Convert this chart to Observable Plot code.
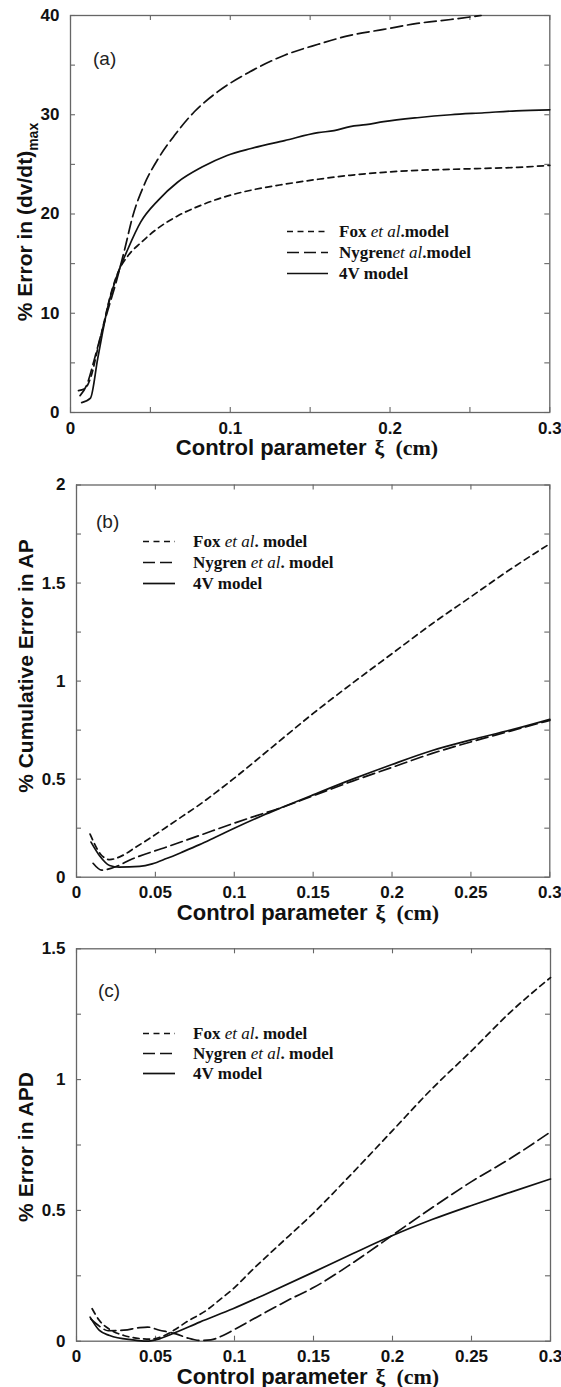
<!DOCTYPE html>
<html><head><meta charset="utf-8">
<script src="https://cdn.jsdelivr.net/npm/d3@7"></script>
<script src="https://cdn.jsdelivr.net/npm/@observablehq/plot@0.6"></script>
<style>
body{margin:0;background:#fff;}
#chart svg{display:block;}
</style></head><body><div id="chart"></div>
<script>
// ---------- DATA ----------
// Panel (a): % Error in (dv/dt)max
const a_fox_x = [0.005,0.009,0.013,0.017,0.021,0.025,0.03,0.036,0.044,0.055,0.067,0.082,0.098,0.113,0.134,0.155,0.175,0.196,0.217,0.238,0.26,0.28,0.3];
const a_fox_y = [2.2,2.4,3.7,6.4,9.1,11.8,14.2,15.8,17.1,18.6,19.8,20.9,21.8,22.4,23.0,23.5,23.9,24.2,24.4,24.5,24.6,24.7,24.9];
const a_nyg_x = [0.006,0.01,0.015,0.019,0.023,0.0285,0.034,0.039,0.046,0.055,0.065,0.0775,0.092,0.112,0.134,0.155,0.175,0.196,0.217,0.238,0.257];
const a_nyg_y = [1.7,2.7,5.4,7.8,10.1,13.1,16.5,19.8,22.9,25.6,27.9,30.3,32.3,34.3,36.0,37.1,38.0,38.6,39.2,39.6,40.0];
const a_4v_x  = [0.007,0.0125,0.017,0.02,0.023,0.0285,0.036,0.044,0.055,0.067,0.082,0.098,0.113,0.134,0.155,0.165,0.175,0.185,0.196,0.217,0.238,0.259,0.279,0.3];
const a_4v_y  = [1.0,1.45,5.4,8.0,10.4,13.5,16.5,19.2,21.4,23.2,24.7,25.9,26.6,27.4,28.2,28.4,28.8,29.0,29.3,29.7,30.0,30.2,30.4,30.5];

// Panel (b): % Cumulative Error in AP
const b_fox_x = [0.0086,0.015,0.021,0.029,0.037,0.046,0.056,0.067,0.078,0.088,0.1,0.125,0.15,0.175,0.2,0.225,0.25,0.275,0.3];
const b_fox_y = [0.22,0.12,0.09,0.11,0.15,0.196,0.25,0.31,0.37,0.43,0.505,0.67,0.835,0.99,1.14,1.29,1.43,1.57,1.70];
const b_nyg_x = [0.0105,0.016,0.023,0.0356,0.0567,0.078,0.099,0.118,0.13,0.15,0.175,0.2,0.225,0.25,0.275,0.3];
const b_nyg_y = [0.071,0.036,0.048,0.094,0.153,0.213,0.273,0.324,0.355,0.415,0.49,0.56,0.63,0.69,0.745,0.80];
const b_4v_x  = [0.0092,0.0145,0.021,0.027,0.04,0.048,0.057,0.067,0.078,0.088,0.1,0.118,0.13,0.15,0.175,0.2,0.225,0.25,0.275,0.3];
const b_4v_y  = [0.179,0.111,0.06,0.051,0.055,0.068,0.095,0.128,0.166,0.204,0.25,0.315,0.355,0.42,0.50,0.575,0.645,0.70,0.75,0.805];

// Panel (c): % Error in APD
const c_fox_x = [0.0099,0.0145,0.021,0.03,0.04,0.047,0.055,0.063,0.07,0.082,0.09,0.1,0.11,0.125,0.15,0.175,0.2,0.225,0.25,0.275,0.3];
const c_fox_y = [0.124,0.079,0.045,0.022,0.01,0.008,0.02,0.047,0.075,0.117,0.155,0.205,0.265,0.35,0.49,0.645,0.805,0.965,1.11,1.26,1.39];
const c_nyg_x = [0.009,0.015,0.02,0.03,0.04,0.045,0.052,0.063,0.07,0.078,0.085,0.092,0.1,0.118,0.135,0.15,0.175,0.2,0.225,0.25,0.275,0.3];
const c_nyg_y = [0.085,0.055,0.04,0.042,0.052,0.054,0.043,0.028,0.013,0.003,0.005,0.02,0.045,0.105,0.16,0.205,0.3,0.405,0.51,0.61,0.70,0.80];
const c_4v_x  = [0.0086,0.0145,0.021,0.0356,0.044,0.0525,0.063,0.078,0.099,0.118,0.15,0.175,0.2,0.225,0.25,0.275,0.3];
const c_4v_y  = [0.092,0.041,0.022,0.005,0.0,0.009,0.034,0.073,0.124,0.175,0.264,0.335,0.404,0.465,0.519,0.57,0.62];

// Tick values and labels
const xMinorTicks = [0,0.05,0.1,0.15,0.2,0.25,0.3];
const a_xLabels = [0,0.1,0.2,0.3];
const bc_xLabels = [0,0.05,0.1,0.15,0.2,0.25,0.3];
const a_yTicks = [0,5,10,15,20,25,30,35,40];
const a_yLabels = [0,10,20,30,40];
const b_yTicks = [0,0.25,0.5,0.75,1,1.25,1.5,1.75,2];
const b_yLabels = [0,0.5,1,1.5,2];
const c_yTicks = [0,0.25,0.5,0.75,1,1.25,1.5];
const c_yLabels = [0,0.5,1,1.5];

// ---------- STYLE ----------
const W = 561;
const SANS = "'Liberation Sans', Arial, Helvetica, sans-serif";
const SERIF = "'Liberation Serif', 'Times New Roman', serif";
const FRAME = "#666";
const INK = "#111";
const DASH = {fox: "6,4.5", nyg: "12,5", v4: null};

function toRows(xs, ys) { return xs.map((x, i) => ({x, y: ys[i]})); }

function makePanel(cfg) {
  const plotH = cfg.height - cfg.marginTop - cfg.marginBottom;
  const plotW = W - cfg.marginLeft - cfg.marginRight;
  const lines = cfg.series.map(s => Plot.line(toRows(s.x, s.y), {
    x: "x", y: "y", stroke: INK, strokeWidth: 1.7, curve: "monotone-x",
    strokeDasharray: DASH[s.key] || undefined
  }));
  const tickStyle = {stroke: FRAME, strokeWidth: 1.1};
  const svg = Plot.plot({
    width: W, height: cfg.height,
    marginTop: cfg.marginTop, marginBottom: cfg.marginBottom,
    marginLeft: cfg.marginLeft, marginRight: cfg.marginRight,
    x: {domain: [0, 0.3], label: null},
    y: {domain: cfg.yDomain, label: null},
    style: {background: "white", overflow: "visible"},
    marks: [
      Plot.tickX(xMinorTicks, {x: d => d, insetTop: plotH - 5, ...tickStyle}),
      Plot.tickX(xMinorTicks, {x: d => d, insetBottom: plotH - 5, ...tickStyle}),
      Plot.tickY(cfg.yTicks, {y: d => d, insetRight: plotW - 5, ...tickStyle}),
      Plot.tickY(cfg.yTicks, {y: d => d, insetLeft: plotW - 5, ...tickStyle}),
      Plot.frame({stroke: FRAME, strokeWidth: 1.3}),
      ...lines,
      Plot.axisX(cfg.xLabels, {tickSize: 0, tickPadding: 9, label: null,
        tickFormat: d => String(d), fontSize: 17, fontWeight: "bold", fontFamily: SANS, fill: INK}),
      Plot.axisY(cfg.yLabels, {tickSize: 0, tickPadding: 11, label: null,
        tickFormat: d => String(d), fontSize: 17, fontWeight: "bold", fontFamily: SANS, fill: INK})
    ]
  });
  const s = d3.select(svg);
  // panel letter
  s.append("text").attr("x", cfg.letter.x).attr("y", cfg.letter.y).attr("text-anchor", "start")
    .attr("font-family", SANS).attr("font-size", 19).attr("fill", "#222").text(cfg.letter.t);
  // y title
  const yt = s.append("text")
    .attr("transform", `translate(${cfg.yTitle.x},${cfg.yTitle.cy}) rotate(-90)`)
    .attr("text-anchor", "middle").attr("font-family", SANS).attr("font-weight", "bold")
    .attr("font-size", 21).attr("fill", INK);
  yt.append("tspan").text(cfg.yTitle.t);
  if (cfg.yTitle.sub) yt.append("tspan").attr("dy", 6).attr("font-size", 14).text(cfg.yTitle.sub);
  // x title
  const xt = s.append("text").attr("x", cfg.xTitle.cx).attr("y", cfg.xTitle.y)
    .attr("text-anchor", "middle").attr("font-weight", "bold").attr("font-size", 22).attr("fill", INK);
  xt.append("tspan").attr("font-family", SANS).text("Control parameter");
  xt.append("tspan").attr("font-family", SERIF).attr("dx", 8).text("ξ");
  xt.append("tspan").attr("font-family", SERIF).attr("dx", 11).text("(cm)");
  // legend
  const L = cfg.legend;
  cfg.series.forEach((ser, i) => {
    const by = L.y0 + i * L.dy;
    const ln = s.append("line").attr("x1", L.x1).attr("x2", L.x2)
      .attr("y1", by - 5.5).attr("y2", by - 5.5)
      .attr("stroke", INK).attr("stroke-width", 1.7);
    if (DASH[ser.key]) ln.attr("stroke-dasharray", DASH[ser.key]);
    const t = s.append("text").attr("x", L.tx).attr("y", by).attr("text-anchor", "start")
      .attr("font-family", SERIF).attr("font-weight", "bold").attr("font-size", 17).attr("fill", INK);
    ser.label.forEach(part => {
      const sp = t.append("tspan").text(part.t);
      if (part.i) sp.attr("font-style", "italic").attr("font-weight", "normal");
    });
  });
  return svg;
}

const labelsA = [
  [{t: "Fox "}, {t: "et al", i: true}, {t: ".model"}],
  [{t: "Nygren"}, {t: "et al", i: true}, {t: ".model"}],
  [{t: "4V model"}]
];
const labelsBC = [
  [{t: "Fox "}, {t: "et al", i: true}, {t: ". model"}],
  [{t: "Nygren "}, {t: "et al", i: true}, {t: ". model"}],
  [{t: "4V model"}]
];

const panels = [
  {
    height: 460, marginTop: 15, marginBottom: 48, marginLeft: 70, marginRight: 11.7,
    yDomain: [0, 40], yTicks: a_yTicks, yLabels: a_yLabels, xLabels: a_xLabels,
    series: [
      {key: "fox", x: a_fox_x, y: a_fox_y, label: labelsA[0]},
      {key: "nyg", x: a_nyg_x, y: a_nyg_y, label: labelsA[1]},
      {key: "v4", x: a_4v_x, y: a_4v_y, label: labelsA[2]}
    ],
    letter: {t: "(a)", x: 93, y: 65},
    yTitle: {t: "% Error in (dv/dt)", sub: "max", x: 32, cy: 222},
    xTitle: {cx: 307, y: 455},
    legend: {x1: 287, x2: 328, tx: 339, y0: 237, dy: 21}
  },
  {
    height: 465, marginTop: 24.5, marginBottom: 48.3, marginLeft: 76, marginRight: 11.7,
    yDomain: [0, 2], yTicks: b_yTicks, yLabels: b_yLabels, xLabels: bc_xLabels,
    series: [
      {key: "fox", x: b_fox_x, y: b_fox_y, label: labelsBC[0]},
      {key: "nyg", x: b_nyg_x, y: b_nyg_y, label: labelsBC[1]},
      {key: "v4", x: b_4v_x, y: b_4v_y, label: labelsBC[2]}
    ],
    letter: {t: "(b)", x: 96, y: 68},
    yTitle: {t: "% Cumulative Error in AP", x: 33, cy: 206},
    xTitle: {cx: 308, y: 460},
    legend: {x1: 143, x2: 175, tx: 193, y0: 87, dy: 21}
  },
  {
    height: 462, marginTop: 23.3, marginBottom: 46.3, marginLeft: 76, marginRight: 11,
    yDomain: [0, 1.5], yTicks: c_yTicks, yLabels: c_yLabels, xLabels: bc_xLabels,
    series: [
      {key: "fox", x: c_fox_x, y: c_fox_y, label: labelsBC[0]},
      {key: "nyg", x: c_nyg_x, y: c_nyg_y, label: labelsBC[1]},
      {key: "v4", x: c_4v_x, y: c_4v_y, label: labelsBC[2]}
    ],
    letter: {t: "(c)", x: 98, y: 72},
    yTitle: {t: "% Error in APD", x: 33, cy: 222},
    xTitle: {cx: 308, y: 459},
    legend: {x1: 143, x2: 175, tx: 193, y0: 114, dy: 20}
  }
];

const root = document.getElementById("chart");
panels.forEach(p => root.appendChild(makePanel(p)));
</script>
</body></html>
